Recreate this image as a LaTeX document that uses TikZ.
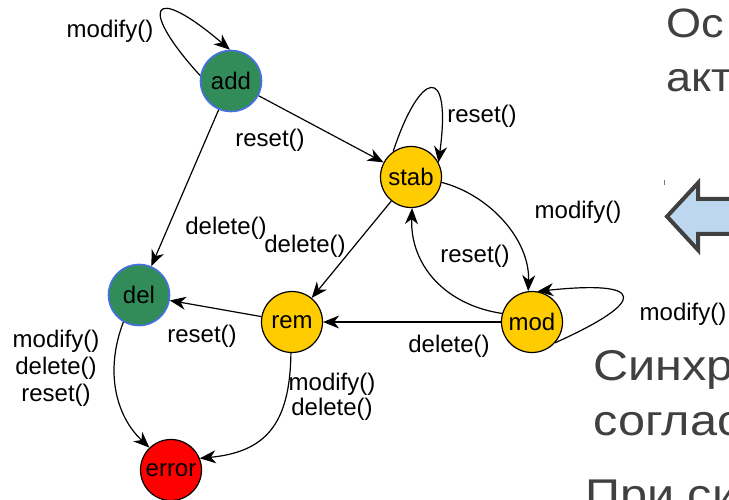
\documentclass[tikz,border=0pt]{standalone}
\usepackage{fontspec}
\setmainfont{Liberation Sans}
\newfontfamily\slidefont[FakeStretch=1.1]{Liberation Sans}
\newfontfamily\slidefontwide[FakeStretch=1.13]{Liberation Sans}
\usetikzlibrary{arrows.meta}
\definecolor{stgreen}{RGB}{50,140,90}
\definecolor{stblue}{RGB}{70,110,230}
\definecolor{styellow}{RGB}{255,204,0}
\definecolor{stred}{RGB}{255,0,0}
\definecolor{slidegray}{RGB}{64,64,64}
\definecolor{arrowblue}{RGB}{189,215,238}
\begin{document}
\begin{tikzpicture}[x=1pt,y=-1pt,
  state/.style={circle, draw=black, line width=1.2pt, minimum size=61pt, inner sep=0pt, font=\fontsize{24}{26}\selectfont},
  greenstate/.style={state, fill=stgreen, draw=stblue, line width=1.6pt},
  yellowstate/.style={state, fill=styellow},
  redstate/.style={state, fill=stred},
  edge/.style={line width=1.2pt, -{Stealth[length=16pt,width=13pt,inset=5pt]}},
  lab/.style={font=\fontsize{24}{27}\selectfont, inner sep=0pt, align=center},
  slide/.style={font=\slidefont\fontsize{41}{48}\selectfont, text=slidegray, anchor=base west, inner sep=0pt},
  slidelow/.style={slide, font=\slidefontwide\fontsize{43}{50}\selectfont}
]
\useasboundingbox (0,0) rectangle (729,500);

% states
\node[greenstate] (add) at (231,81) {add};
\node[yellowstate] (stab) at (411,177) {stab};
\node[greenstate] (del) at (139,295) {del};
\node[yellowstate] (rem) at (292,322) {rem};
\node[yellowstate] (mod) at (532,322) {mod};
\node[redstate] (error) at (171,470) {error};

% transitions
\draw[edge] (add.170) .. controls (140,10) and (148,-20) .. (add.92);
\draw[edge] (add) -- (stab);
\draw[edge] (add) -- (del);
\draw[edge] (stab.125) .. controls (420,70) and (452,62) .. (stab.28);
\draw[edge] (stab.-10) .. controls (490,195) and (530,240) .. (mod.97);
\draw[edge] (mod.164) .. controls (445,305) and (410,265) .. (stab.-88);
\draw[edge] (stab) -- (rem);
\draw[edge] (mod.-42) .. controls (650,300) and (645,280) .. (mod.80);
\draw[edge] (mod) -- (rem);
\draw[edge] (rem) -- (del);
\draw[edge] (del.-120) .. controls (105,370) and (115,415) .. (error.134);
\draw[edge] (rem.-92) .. controls (290,425) and (265,452) .. (error.22);

% labels
\node[lab] (l1) at (110,31) {modify()};
\node[lab] (l2) at (270,140) {reset()};
\node[lab] (l3) at (226,228) {delete()};
\node[lab] (l4) at (305,246) {delete()};
\node[lab] (l5) at (482,116) {reset()};
\node[lab] (l6) at (578,212) {modify()};
\node[lab] (l7) at (475,256) {reset()};
\node[lab] (l8) at (449,346) {delete()};
\node[lab] (l9) at (683,314) {modify()};
\node[lab] (l10) at (202,336) {reset()};
\node[lab] (l11) at (56,368) {modify()\\delete()\\reset()};
\node[lab, font=\fontsize{24}{25}\selectfont] (l12) at (332,397) {modify()\\delete()};

% slide text
\node[slide] (t1) at (666,38) {Ос};
\node[slide] (t2) at (666,92) {акт};
\node[slidelow] (t3) at (593,380) {Синхр};
\node[slidelow] (t4) at (593,435) {соглас};
\node[slidelow] (t5) at (585,509) {При си};

% big arrow
\draw[line width=4pt, draw=slidegray, fill=arrowblue, line join=miter]
  (667,216.5) -- (698,183) -- (698,199) -- (745,199) -- (745,234) -- (698,234) -- (698,250) -- cycle;
\draw[slidegray!70, line width=0.8pt] (664,180) -- (664,185);
\end{tikzpicture}
\end{document}
